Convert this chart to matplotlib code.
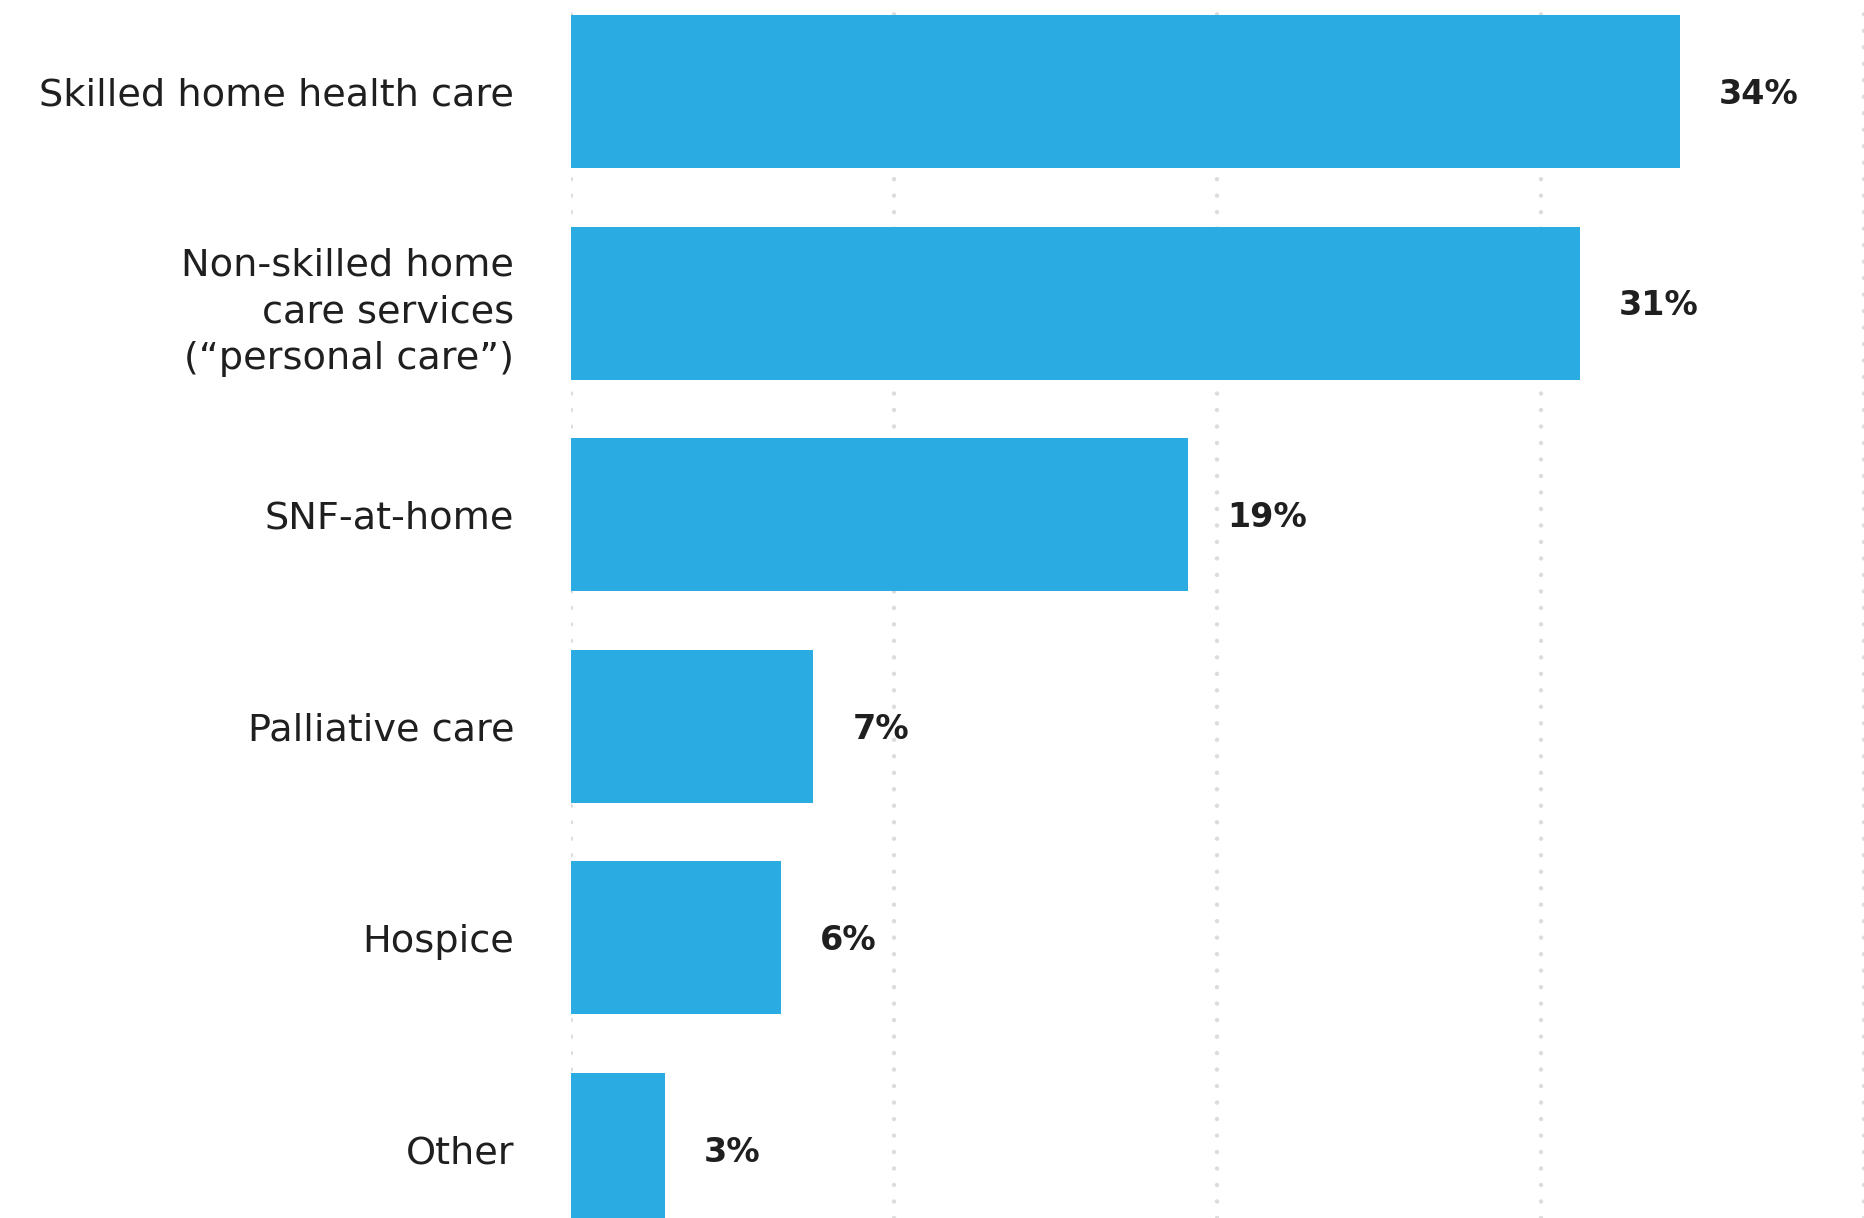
import matplotlib
matplotlib.use("Agg")
import matplotlib.pyplot as plt
import numpy as np

categories = ["Skilled home health care",
              "Non-skilled home\ncare services\n(\u201cpersonal care\u201d)",
              "SNF-at-home",
              "Palliative care",
              "Hospice",
              "Other"]
values = [34.3, 31.2, 19.1, 7.5, 6.5, 2.9]
value_labels = ["34%", "31%", "19%", "7%", "6%", "3%"]
grid_ticks = [0, 10, 20, 30, 40]

W, H, DPI = 1865, 1218, 100
fig = plt.figure(figsize=(W / DPI, H / DPI), dpi=DPI)
ax = fig.add_axes([571 / W, 0, (1864 - 571) / W, 1])

font = "DejaVu Sans"
txt_color = "#1f1f1f"

# dotted vertical gridlines
for g in grid_ticks:
    ax.axvline(g, color="#dcdcdc", lw=3.2, ls=(0, (0.01, 3.7)),
               dash_capstyle="round", zorder=0)

y = np.arange(len(categories))
ax.barh(y, values, height=0.723, color="#2aace3", zorder=2)

for yi, v, lab in zip(y, values, value_labels):
    ax.annotate(lab, (v, yi), xytext=(28, -2), textcoords="offset points",
                va="center", ha="left", fontsize=24, fontweight="bold",
                color=txt_color, family=font)

ax.set_xlim(0, 40)
ax.set_ylim(5.324, -0.432)
ax.set_yticks(y)
ax.set_yticklabels(categories, fontsize=27.5, color=txt_color, family=font,
                   linespacing=1.38, ha="right")
ax.tick_params(axis="y", length=0, pad=41)
ax.set_xticks([])
for s in ax.spines.values():
    s.set_visible(False)

fig.savefig("out.png", dpi=DPI, facecolor="white")
